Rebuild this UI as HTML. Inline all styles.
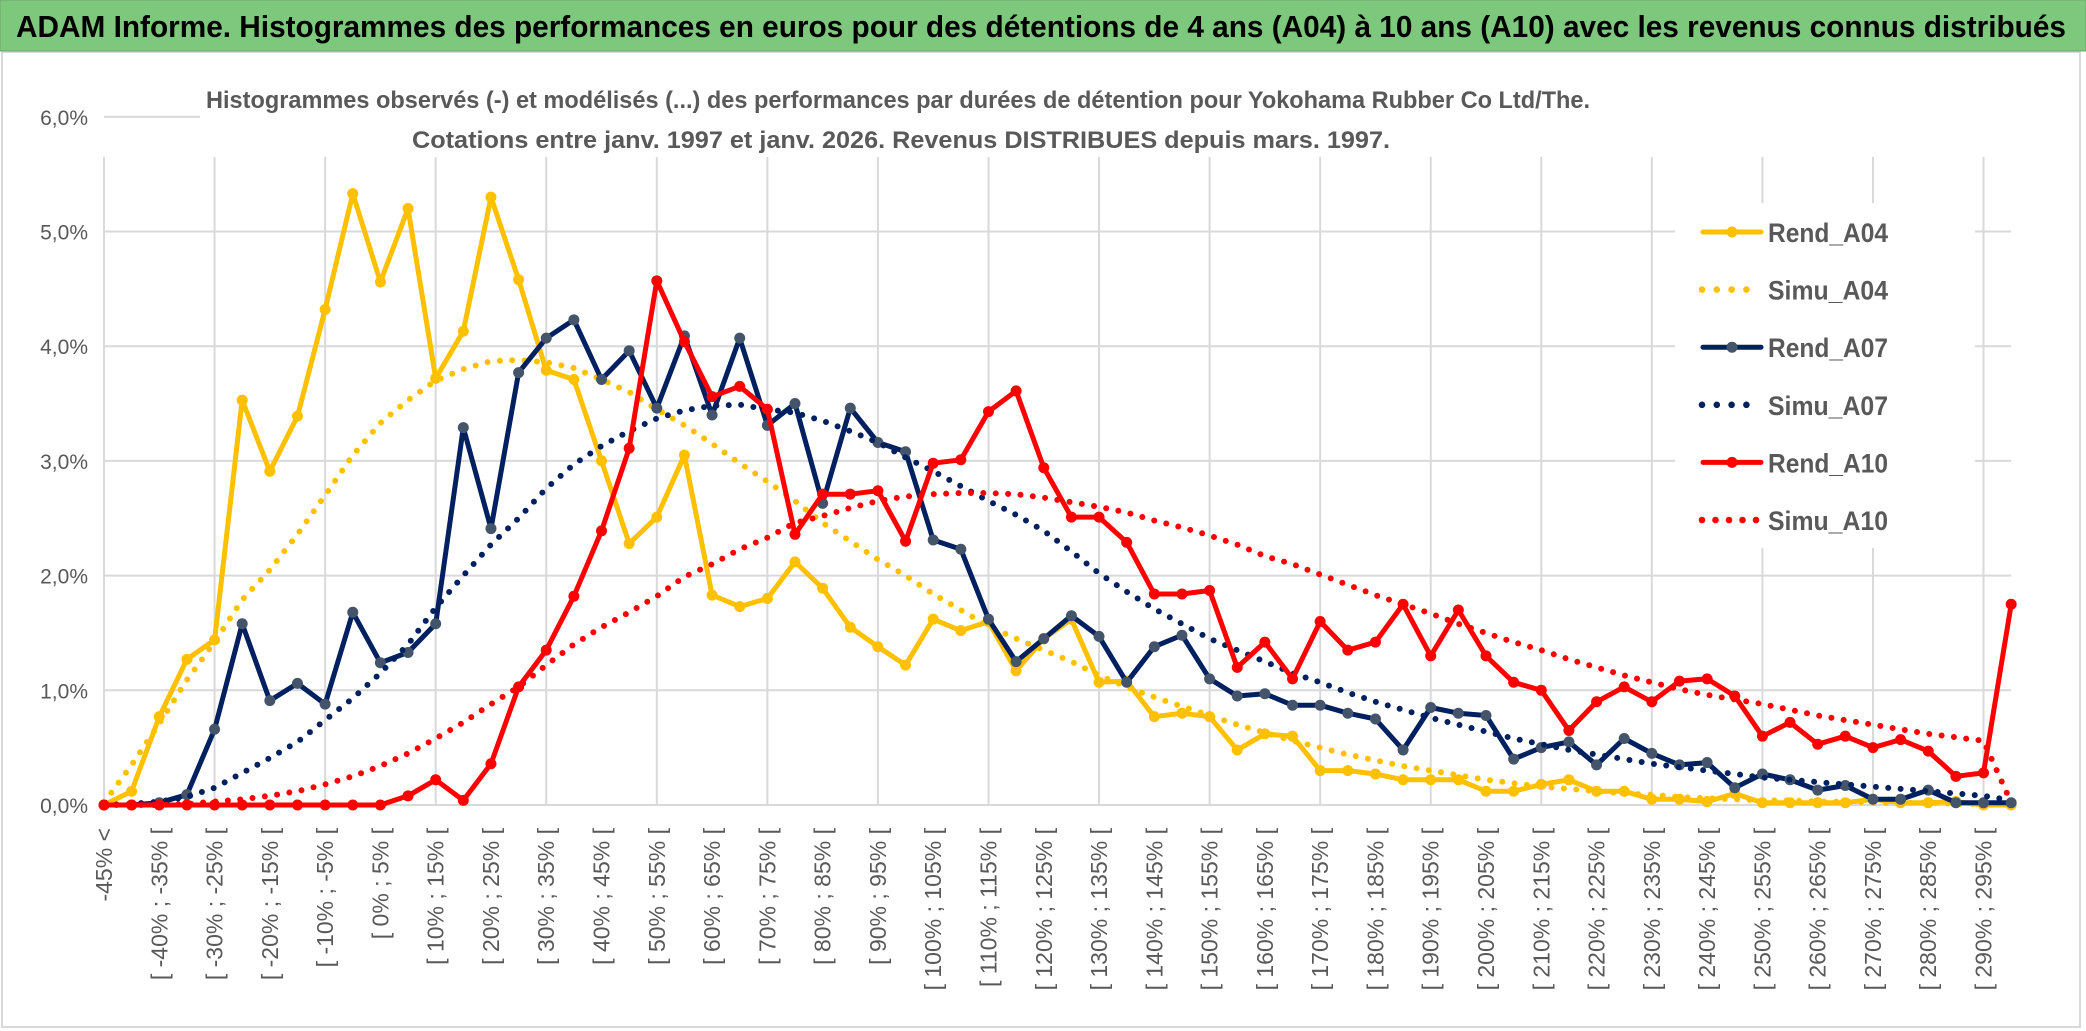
<!DOCTYPE html>
<html><head><meta charset="utf-8"><style>
html,body{margin:0;padding:0;background:#fff;}
svg{display:block;font-family:"Liberation Sans",sans-serif;}
</style></head><body>
<svg id="chart" width="2086" height="1031" viewBox="0 0 2086 1031" xmlns="http://www.w3.org/2000/svg">
<rect x="0" y="0" width="2086" height="1031" fill="#fff"/>
<rect x="2" y="52" width="2078" height="975" fill="#fff" stroke="#d9d9d9" stroke-width="2"/>
<rect x="0" y="0" width="2086" height="51" fill="#7dc87c" stroke="#6aa86a" stroke-width="1"/>
<text x="16" y="37" font-size="31" font-weight="bold" fill="#000" textLength="2050" lengthAdjust="spacingAndGlyphs">ADAM Informe. Histogrammes des performances en euros pour des détentions de 4 ans (A04) à 10 ans (A10) avec les revenus connus distribués</text>
<g id="grid"></g>
<rect x="200" y="62" width="1850" height="94" fill="#fff"/>
<text x="206" y="108" font-size="24" font-weight="bold" fill="#595959" textLength="1384" lengthAdjust="spacingAndGlyphs">Histogrammes observés (-) et modélisés (...) des performances par durées de détention pour Yokohama Rubber Co Ltd/The.</text>
<text x="412" y="148" font-size="24" font-weight="bold" fill="#595959" textLength="978" lengthAdjust="spacingAndGlyphs">Cotations entre janv. 1997 et janv. 2026. Revenus DISTRIBUES depuis mars. 1997.</text>
<g id="series"></g>
<g id="legend"></g>
</svg>
<script>
const rendA04 = [0,0.12,0.77,1.27,1.44,3.53,2.91,3.39,4.32,5.33,
4.56,5.20,3.72,4.13,5.30,4.58,3.79,3.71,3.0,2.28,
2.51,3.05,1.83,1.73,1.80,2.12,1.89,1.55,1.38,1.22,
1.62,1.52,1.60,1.17,1.45,1.62,1.07,1.08,0.77,0.80,
0.77,0.48,0.62,0.60,0.30,0.30,0.27,0.22,0.22,0.22,
0.12,0.12,0.18,0.22,0.12,0.12,0.05,0.05,0.03,0.10,
0.02,0.02,0.02,0.02,0.05,0.02,0.02,0.03,0,0];
const simuA04 = [0.02,0.35,0.71,1.09,1.42,1.79,2.05,2.36,2.70,3.05,
3.33,3.53,3.70,3.80,3.87,3.88,3.86,3.81,3.71,3.60,
3.45,3.31,3.15,2.98,2.82,2.65,2.46,2.30,2.14,2.00,
1.84,1.70,1.56,1.45,1.35,1.25,1.13,1.03,0.94,0.86,
0.78,0.70,0.63,0.56,0.50,0.44,0.39,0.34,0.30,0.26,
0.22,0.19,0.16,0.14,0.12,0.10,0.09,0.07,0.06,0.05,
0.04,0.04,0.03,0.03,0.02,0.02,0.02,0.01,0.01,0.01];
const rendA07 = [0,0,0.02,0.09,0.66,1.58,0.91,1.06,0.88,1.68,
1.24,1.33,1.58,3.29,2.41,3.77,4.07,4.23,3.71,3.96,
3.46,4.09,3.40,4.07,3.31,3.50,2.63,3.46,3.16,3.08,
2.31,2.23,1.62,1.25,1.45,1.65,1.47,1.07,1.38,1.48,
1.10,0.95,0.97,0.87,0.87,0.80,0.75,0.48,0.85,0.80,
0.78,0.40,0.50,0.55,0.35,0.58,0.45,0.35,0.37,0.15,
0.27,0.22,0.13,0.17,0.05,0.05,0.13,0.02,0.02,0.02];
const simuA07 = [0,0.01,0.03,0.07,0.15,0.28,0.41,0.55,0.74,0.93,
1.15,1.40,1.72,2.0,2.27,2.50,2.76,2.97,3.13,3.26,
3.37,3.44,3.48,3.49,3.45,3.42,3.35,3.26,3.16,3.03,
2.91,2.78,2.65,2.53,2.39,2.21,2.02,1.86,1.71,1.58,
1.45,1.35,1.25,1.15,1.07,0.98,0.90,0.83,0.76,0.70,
0.64,0.58,0.53,0.48,0.44,0.40,0.36,0.33,0.30,0.27,
0.24,0.22,0.20,0.18,0.16,0.14,0.12,0.10,0.08,0.04];
const rendA10 = [0,0,0,0,0,0,0,0,0,0,
0,0.08,0.22,0.04,0.36,1.03,1.35,1.82,2.39,3.11,
4.57,4.04,3.56,3.65,3.45,2.36,2.71,2.71,2.74,2.30,
2.98,3.01,3.43,3.61,2.94,2.51,2.51,2.29,1.84,1.84,
1.87,1.20,1.42,1.10,1.60,1.35,1.42,1.75,1.30,1.70,
1.30,1.07,1.00,0.65,0.90,1.03,0.90,1.08,1.10,0.95,
0.60,0.72,0.53,0.60,0.50,0.57,0.47,0.25,0.28,1.75];
const simuA10 = [0,0,0,0.01,0.03,0.05,0.08,0.12,0.18,0.25,
0.34,0.45,0.58,0.72,0.88,1.03,1.22,1.40,1.55,1.68,
1.82,1.99,2.10,2.23,2.33,2.46,2.52,2.59,2.65,2.69,
2.71,2.72,2.72,2.71,2.68,2.64,2.60,2.55,2.48,2.42,
2.35,2.27,2.17,2.10,2.01,1.92,1.83,1.75,1.67,1.58,
1.50,1.42,1.35,1.27,1.20,1.13,1.07,1.01,0.96,0.92,
0.88,0.83,0.78,0.74,0.70,0.66,0.62,0.59,0.56,0.02];
const yTicks = [0,1,2,3,4,5,6];
const yTickLabels = ["0,0%","1,0%","2,0%","3,0%","4,0%","5,0%","6,0%"];
const binStarts = [];
for (let b = -45; b < 300; b += 5) binStarts.push(b);
const categories = ["-45% <"];
for (let k = 0; k < binStarts.length - 1; k++) categories.push("[ " + binStarts[k] + "% ; " + binStarts[k+1] + "% [");
const legendNames = ["Rend_A04","Simu_A04","Rend_A07","Simu_A07","Rend_A10","Simu_A10"];

const NS = "http://www.w3.org/2000/svg";
const X0 = 104, XSTEP = 27.64, Y0 = 805, YUNIT = 114.7;
const n = rendA04.length;
function xs(i){ return X0 + i*XSTEP; }
function ys(v){ return Y0 - v*YUNIT; }
function mk(tag, attrs, parent){ const e=document.createElementNS(NS,tag); for(const k in attrs) e.setAttribute(k, attrs[k]); parent.appendChild(e); return e; }

const grid = document.getElementById('grid');
const xRight = xs(n-1);
yTicks.forEach((t,k)=>{
  const l = mk('line',{x1:X0,x2:xRight,y1:ys(t),y2:ys(t),stroke:'#d9d9d9','stroke-width':2},grid);
  
  
  const tx = mk('text',{x:88,y:ys(t)+8,'text-anchor':'end','font-size':21,fill:'#595959'},grid);
  tx.textContent = yTickLabels[k];
  
  
});
for (let i=0;i<n;i+=4){
  const l = mk('line',{x1:xs(i),x2:xs(i),y1:157,y2:Y0,stroke:'#d9d9d9','stroke-width':2},grid);
  
  
}
for (let i=0;i<n;i+=2){
  const x = xs(i)+8, y = 828;
  const tx = mk('text',{x:x,y:y,'text-anchor':'end','font-size':23,fill:'#595959',transform:'rotate(-90 '+x+' '+y+')'},grid);
  tx.textContent = categories[i];
  
  
}

const series = document.getElementById('series');
function pts(arr){ return arr.map((v,i)=>xs(i).toFixed(1)+','+ys(v).toFixed(1)).join(' '); }
function drawRend(arr,color,mcolor,name){
  const g = mk('g',{},series);
  
  
  const pl = mk('polyline',{points:pts(arr),fill:'none',stroke:color,'stroke-width':5,'stroke-linejoin':'round'},g);
  
  
  arr.forEach((v,i)=>{
    const c = mk('circle',{cx:xs(i),cy:ys(v),r:5.5,fill:mcolor},g);
    
    
  });
}
function drawSimu(arr,color,name){
  const pl = mk('polyline',{points:pts(arr),fill:'none',stroke:color,'stroke-width':6,'stroke-linecap':'round','stroke-dasharray':'0 12.4'},series);
  
  
}
drawRend(rendA04,'#ffc000','#ffc000','rend-a04');
drawSimu(simuA04,'#ffc000','simu-a04');
drawRend(rendA07,'#002060','#44546a','rend-a07');
drawSimu(simuA07,'#002060','simu-a07');
drawRend(rendA10,'#ff0000','#ff0000','rend-a10');
drawSimu(simuA10,'#ff0000','simu-a10');

const legend = document.getElementById('legend');
const LX = 1703;
const lbg = mk('rect',{x:LX-28,y:203,width:300,height:345,fill:'#fff'},legend);


const legColors = ['#ffc000','#ffc000','#002060','#002060','#ff0000','#ff0000'];
const legMarker = ['#ffc000',null,'#44546a',null,'#ff0000',null];
legendNames.forEach((nm,k)=>{
  const y = 232 + k*57.6;
  const g = mk('g',{},legend);
  
  
  if (k%2===0){
    mk('line',{x1:LX,x2:LX+58,y1:y,y2:y,stroke:legColors[k],'stroke-width':5,'stroke-linecap':'round'},g);
    mk('circle',{cx:LX+29,cy:y,r:5.5,fill:legMarker[k]},g);
  } else {
    const cnt = k===5?5:4, sp = k===5?13.5:14.8;
    for (let d=0; d<cnt; d++) mk('circle',{cx:LX-1+d*sp,cy:y,r:3.3,fill:legColors[k]},g);
  }
  const t = mk('text',{x:LX+65,y:y+10,'font-size':27,'font-weight':'bold',fill:'#595959',textLength:120,lengthAdjust:'spacingAndGlyphs'},g);
  t.textContent = nm;
});
</script>
</body></html>
